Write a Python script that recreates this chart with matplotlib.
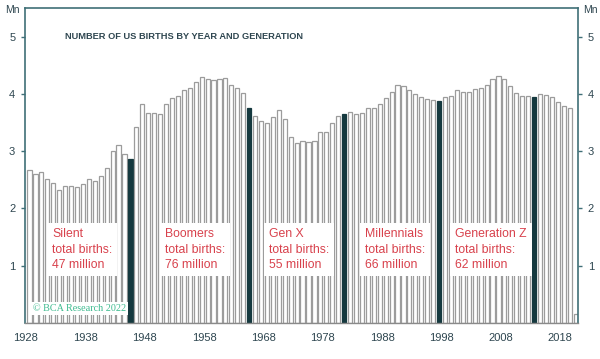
import matplotlib
matplotlib.use('Agg')
import matplotlib.pyplot as plt
from matplotlib import font_manager

# US births per year (millions)
years = list(range(1928, 2021))
births = [2.68, 2.60, 2.63, 2.52, 2.44, 2.32, 2.40, 2.39, 2.37, 2.42,
          2.51, 2.48, 2.57, 2.70, 3.00, 3.11, 2.95, 2.86, 3.42, 3.82,
          3.66, 3.66, 3.65, 3.82, 3.92, 3.97, 4.07, 4.10, 4.20, 4.30,
          4.26, 4.25, 4.26, 4.27, 4.16, 4.10, 4.02, 3.75, 3.62, 3.53,
          3.50, 3.59, 3.72, 3.56, 3.25, 3.14, 3.17, 3.16, 3.17, 3.34,
          3.34, 3.50, 3.62, 3.65, 3.68, 3.65, 3.67, 3.76, 3.76, 3.82,
          3.92, 4.04, 4.16, 4.13, 4.07, 4.00, 3.95, 3.91, 3.90, 3.88,
          3.94, 3.96, 4.06, 4.03, 4.03, 4.09, 4.10, 4.15, 4.26, 4.31,
          4.26, 4.14, 4.01, 3.97, 3.96, 3.94, 3.99, 3.98, 3.95, 3.86,
          3.79, 3.75, 0.15]

gen_names = ['Silent', 'Boomers', 'Gen X', 'Millennials', 'Generation Z']
gen_totals = [47, 76, 55, 66, 62]
gen_marker_years = [1945, 1965, 1981, 1997, 2013]
label_years = [1931.8, 1950.8, 1968.4, 1984.5, 1999.7]

xtick_years = list(range(1928, 2019, 10))
yticks = [1, 2, 3, 4, 5]

names = {f.name for f in font_manager.fontManager.ttflist}
narrow = 'Liberation Sans Narrow' if 'Liberation Sans Narrow' in names else 'Liberation Sans'

plt.rcParams['font.family'] = ['Liberation Sans', 'DejaVu Sans']

frame_col = '#3f6f77'
text_col = '#2e4650'
red = '#d8414c'

fig = plt.figure(figsize=(6, 3.59), dpi=100)
ax = fig.add_axes([25/600, 1 - 323/359, 553/600, 315/359])

colors = ['#15393f' if y in gen_marker_years else 'white' for y in years]
edges = ['#15393f' if y in gen_marker_years else '#9c9c9c' for y in years]
ax.bar(years, births, width=0.7, color=colors, edgecolor=edges, linewidth=0.9, zorder=2)

ax.set_xlim(1927.24, 2020.4)
ax.set_ylim(0, 5.5)

for name, total, lx in zip(gen_names, gen_totals, label_years):
    ax.text(lx, 1.66, f'{name}\ntotal births:\n{total} million', color=red,
            fontsize=8.8, va='top', ha='left', linespacing=1.4, zorder=3,
            bbox=dict(facecolor='white', edgecolor='none', boxstyle='square,pad=0.4'))

ax.text(1928.6, 0.26, '\u00a9 BCA Research 2022', color='#3dbb8f', fontsize=7.3,
        family='Liberation Serif', va='center', ha='left', zorder=3,
        bbox=dict(facecolor='white', edgecolor='none', boxstyle='square,pad=0.2'))

title_size = 7.6 if narrow != 'Liberation Sans' else 6.7
ax.text(1934.0, 5.0, 'NUMBER OF US BIRTHS BY YEAR AND GENERATION', color=text_col,
        fontsize=title_size, family=narrow, fontweight='bold', va='center', ha='left', zorder=3)

for s in ['left', 'right', 'top']:
    ax.spines[s].set_color(frame_col)
    ax.spines[s].set_linewidth(1.2)
ax.spines['bottom'].set_color('#8a8a8a')
ax.spines['bottom'].set_linewidth(1.0)

ax.set_yticks(yticks)
ax.set_yticklabels([str(v) for v in yticks])
ax.tick_params(axis='y', which='both', left=True, right=True, labelleft=True,
               labelright=True, direction='out', length=3, width=1,
               color=frame_col, labelcolor=text_col, labelsize=8, pad=4)

ax.set_xticks([y - 0.6 for y in xtick_years])
ax.set_xticklabels([str(y) for y in xtick_years])
ax.tick_params(axis='x', length=0, labelcolor=text_col, labelsize=8, pad=7)

fig.text(12/600, 1 - 10/359, 'Mn', color=text_col, fontsize=7.5, ha='center', va='center')
fig.text(590/600, 1 - 10/359, 'Mn', color=text_col, fontsize=7.5, ha='center', va='center')

fig.savefig('out.png', dpi=100)
